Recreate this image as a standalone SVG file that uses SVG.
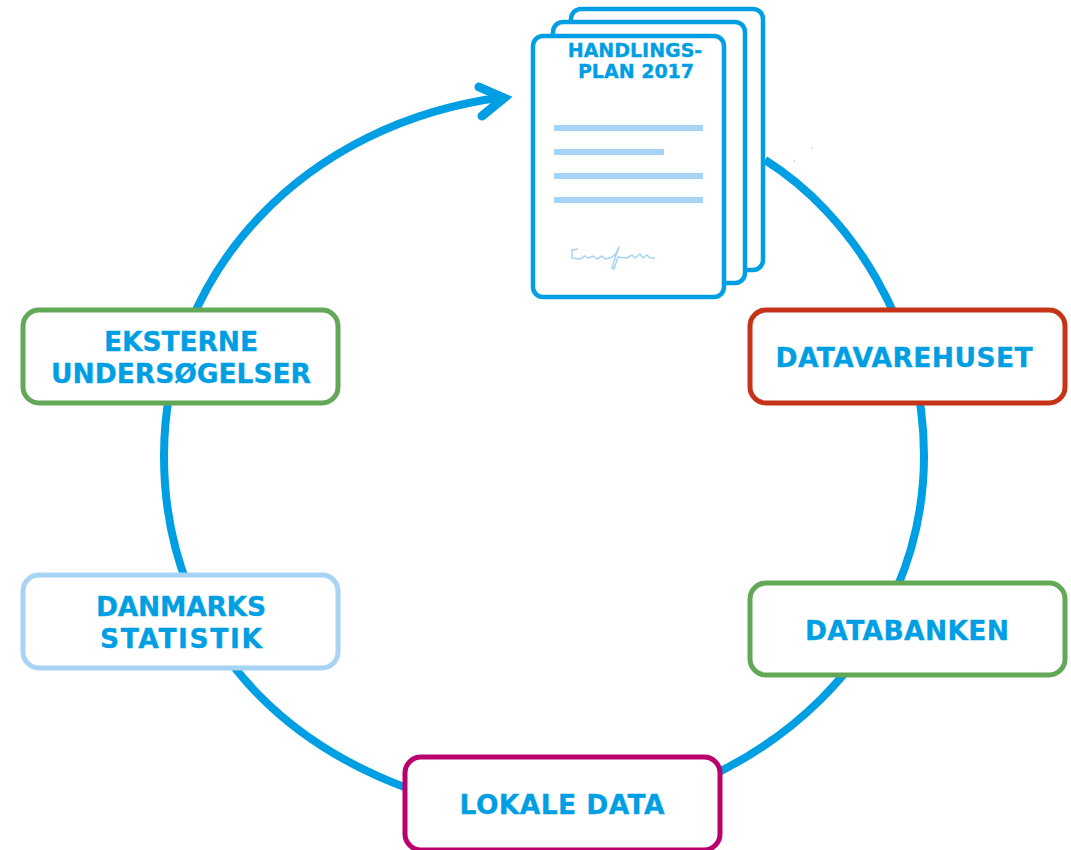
<svg xmlns="http://www.w3.org/2000/svg" width="1071" height="850" viewBox="0 0 1071 850">
<style>
.ring{fill:none;stroke:#009fe3;stroke-width:8}
.head{fill:none;stroke:#009fe3;stroke-width:9;stroke-linejoin:miter;stroke-miterlimit:6;stroke-linecap:round}
.box{fill:#fff;stroke-width:5}
.t{font-family:"DejaVu Sans",sans-serif;font-weight:700;fill:#009fe3;text-anchor:middle;stroke:#009fe3;stroke-width:.35}
.l{font-size:26.500px}.s{font-size:19px}
.page{fill:#fff;stroke:#009fe3;stroke-width:4.5}
.bar{fill:#a7d3f5}
</style>
<rect width="1071" height="850" fill="#fff"/>
<g id="connectors">
<path class="ring" d="M505 97C305 122 164 272 164 456C164 640 292 790 544 820C775 800 924 640 924 456C924 325 850 213 765 160"/>
<path class="head" d="M479 87L504 98L482 116"/>
</g>
<rect x="811.500" y="147.500" width="1" height="1" fill="#a09a80"/>
<rect x="794" y="160.500" width="1" height="1" fill="#a09a80"/>
<g id="plan">
<rect class="page" x="571" y="9" width="192" height="261" rx="10"/>
<rect class="page" x="553" y="22" width="192" height="261" rx="10"/>
<rect class="page" x="533" y="36" width="191" height="261" rx="10"/>
<text class="t s" x="635" y="57">HANDLINGS-</text>
<text class="t s" x="636" y="78">PLAN 2017</text>
<rect class="bar" x="554" y="125" width="149" height="6"/>
<rect class="bar" x="554" y="149" width="110" height="6"/>
<rect class="bar" x="554" y="173" width="149" height="6"/>
<rect class="bar" x="554" y="197" width="149" height="6"/>
<path d="M578 249L572 250L572 258L580 259L585 256L588 258L593 256L597 259L602 256L605 259L610 258L615 255L619 247L615 258L612 268L614 269L617 260L618 257L627 258L632 255L635 258L640 254L643 258L647 255L650 258L655 258" fill="none" stroke="#a7d3f5" stroke-width="1.500" stroke-linejoin="round"/>
</g>
<g id="eksterne"><rect class="box" x="23" y="310" width="315" height="93" rx="16" stroke="#62a857"/>
<text class="t l" x="181" y="351" textLength="154">EKSTERNE</text><text class="t l" x="181" y="383" textLength="260">UNDERSØGELSER</text></g>
<g id="datavarehuset"><rect class="box" x="750" y="310" width="315" height="93" rx="16" stroke="#c63319"/>
<text class="t l" x="904" y="367" textLength="257">DATAVAREHUSET</text></g>
<g id="danmarks"><rect class="box" x="23" y="575" width="315" height="93" rx="16" stroke="#a7d3f5"/>
<text class="t l" x="181" y="616" textLength="170">DANMARKS</text><text class="t l" x="181" y="648" textLength="162">STATISTIK</text></g>
<g id="databanken"><rect class="box" x="750" y="583" width="315" height="92" rx="16" stroke="#62a857"/>
<text class="t l" x="907" y="640" textLength="204">DATABANKEN</text></g>
<g id="lokale"><rect class="box" x="405" y="757" width="315" height="93" rx="16" stroke="#b9006e"/>
<text class="t l" x="562" y="814" textLength="205">LOKALE DATA</text></g>
</svg>
